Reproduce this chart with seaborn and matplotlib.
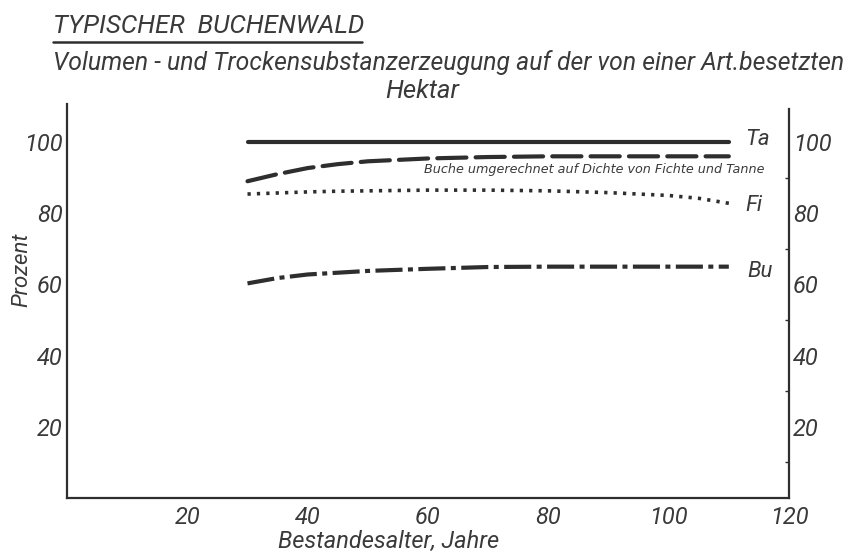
import seaborn as sns
import numpy as np
import matplotlib.pyplot as plt
from matplotlib.lines import Line2D

# values (Bestandesalter in Jahren, Prozent)
ages = [30, 35, 40, 45, 50, 60, 70, 80, 90, 100, 105, 110]
ta = [100, 100, 100, 100, 100, 100, 100, 100, 100, 100, 100, 100]
bu_umgerechnet = [89.0, 91.0, 92.7, 93.8, 94.6, 95.4, 95.8, 96.0, 96.0, 96.0, 96.0, 96.0]
fi = [85.4, 85.7, 86.0, 86.2, 86.3, 86.5, 86.5, 86.3, 85.8, 85.0, 84.2, 82.8]
bu = [60.3, 61.8, 62.8, 63.3, 63.8, 64.4, 64.9, 65.0, 65.0, 65.0, 65.0, 65.0]

x_ticks = [20, 40, 60, 80, 100, 120]
y_ticks = [20, 40, 60, 80, 100]

sns.set_style("white")
plt.rcParams['font.family'] = ['Roboto', 'DejaVu Sans']
plt.rcParams['font.style'] = 'italic'

ink = '#2e2e2e'
txt = '#3a3a3a'
fig = plt.figure(figsize=(8.52, 5.52), dpi=100)
ax = fig.add_axes([67 / 852, 54 / 552, 722 / 852, 394 / 552])

# Ta solid
sns.lineplot(x=ages, y=ta, ax=ax, color=ink, lw=3.0, solid_capstyle='round')
# Buche umgerechnet, long dashes
sns.lineplot(x=ages, y=bu_umgerechnet, ax=ax, color=ink, lw=3.0,
             linestyle=(0, (7, 2.2)), dash_capstyle='round')
# Fi dotted
sns.lineplot(x=ages, y=fi, ax=ax, color=ink, lw=2.6,
             linestyle=(0, (0.9, 1.7)))
# Bu dash-dot
sns.lineplot(x=ages, y=bu, ax=ax, color=ink, lw=3.0,
             linestyle=(0, (6.5, 1.3, 1.2, 1.3)))

ax.set_xlim(0, 120)
ax.set_ylim(0, 110.7)
ax.set_xticks(x_ticks)
ax.set_xticks(np.arange(10, 120, 10), minor=True)
ax.set_yticks(y_ticks)
ax.set_yticks(np.arange(10, 110, 10), minor=True)
ax.tick_params(axis='both', which='both', colors=ink, labelcolor=txt,
               labelsize=17, width=1)
ax.tick_params(axis='both', which='major', length=0)
ax.tick_params(axis='x', which='major', pad=6)
ax.tick_params(axis='y', which='major', pad=3)
ax.tick_params(axis='both', which='minor', length=3)
ax.tick_params(axis='y', which='both', right=True, labelright=True, direction='in')
for s in ['left', 'right', 'bottom']:
    ax.spines[s].set_color(ink)
    ax.spines[s].set_linewidth(1.6)
ax.spines['top'].set_visible(False)
ax.spines['right'].set_bounds(0, 109.3)
ax.grid(False)

ax.set_xlabel('Bestandesalter, Jahre', fontsize=17, color=txt)
ax.xaxis.set_label_coords(0.445, -0.082)
ax.set_ylabel('Prozent', fontsize=16, color=txt)
ax.yaxis.set_label_coords(-0.048, 0.579)

# Kurvenbeschriftungen
ax.text(112.7, 100.6, 'Ta', fontsize=16, color=txt, va='center')
ax.text(112.7, 82.2, 'Fi', fontsize=16, color=txt, va='center')
ax.text(113.0, 63.7, 'Bu', fontsize=16, color=txt, va='center')
ax.text(115.9, 92.4, 'Buche umgerechnet auf Dichte von Fichte und Tanne',
        fontsize=9.2, color=txt, ha='right', va='center',
        family=['DejaVu Sans'])

fig.text(53 / 852, 1 - 33 / 552, 'TYPISCHER  BUCHENWALD', fontsize=18.6,
         color=txt, va='baseline')
fig.add_artist(Line2D([53 / 852, 362 / 852], [1 - 42 / 552, 1 - 42 / 552],
                      color=ink, lw=1.8, transform=fig.transFigure))
fig.text(53 / 852, 1 - 70 / 552,
         'Volumen - und Trockensubstanzerzeugung auf der von einer Art.besetzten',
         fontsize=17.8, color=txt, va='baseline')
fig.text(422 / 852, 1 - 98 / 552, 'Hektar', fontsize=18.5, color=txt,
         va='baseline', ha='center')

fig.savefig('out.png', dpi=100, facecolor='white')
